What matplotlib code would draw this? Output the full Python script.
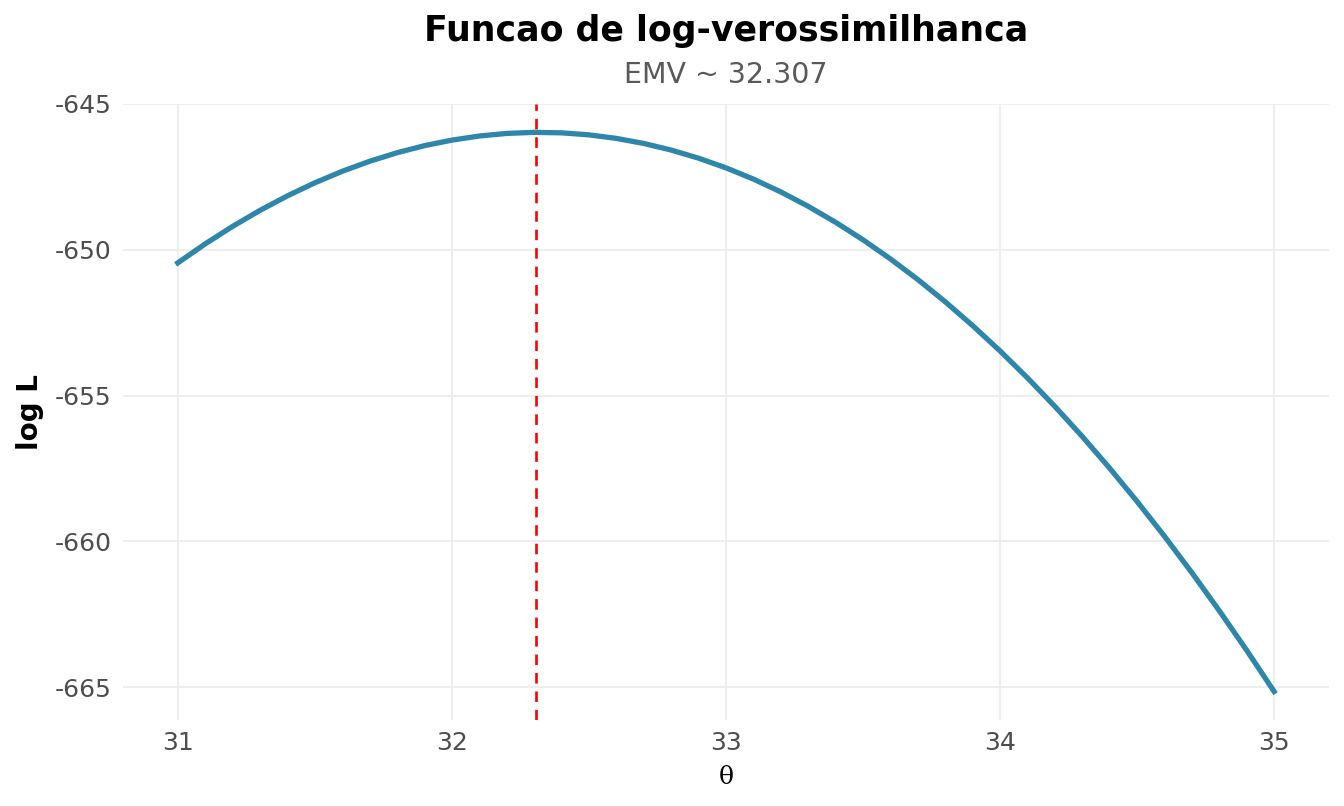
import matplotlib
matplotlib.use("Agg")
import matplotlib.pyplot as plt

# log-likelihood curve
theta = [31.0, 31.1, 31.2, 31.3, 31.4, 31.5, 31.6, 31.7, 31.8, 31.9,
         32.0, 32.1, 32.2, 32.3, 32.4, 32.5, 32.6, 32.7, 32.8, 32.9,
         33.0, 33.1, 33.2, 33.3, 33.4, 33.5, 33.6, 33.7, 33.8, 33.9,
         34.0, 34.1, 34.2, 34.3, 34.4, 34.5, 34.6, 34.7, 34.8, 34.9, 35.0]
loglik = [-650.450, -649.798, -649.198, -648.649, -648.151, -647.704,
          -647.309, -646.965, -646.672, -646.430, -646.240, -646.099,
          -646.010, -645.974, -645.990, -646.059, -646.180, -646.354,
          -646.580, -646.859, -647.190, -647.576, -648.016, -648.510,
          -649.057, -649.658, -650.313, -651.022, -651.784, -652.600,
          -653.470, -654.394, -655.372, -656.404, -657.491, -658.632,
          -659.827, -661.076, -662.380, -663.738, -665.150]
emv = 32.307

xticks = [31, 32, 33, 34, 35]
yticks = [-665, -660, -655, -650, -645]

fig = plt.figure(figsize=(13.44, 8.06), dpi=100)
ax = fig.add_axes([0.0915, 0.1073, 0.8973, 0.7637])

ax.plot(theta, loglik, color="#2E86AB", lw=3.8, solid_joinstyle="round", zorder=3)
ax.axvline(emv, color="red", lw=1.9, ls=(0, (4, 3)), zorder=4)

ax.set_xlim(30.8, 35.2)
ax.set_ylim(-666.11, -645.0)
ax.set_xticks(xticks)
ax.set_yticks(yticks)
ax.set_yticklabels([str(v) for v in yticks])

ax.grid(True, color="#EBEBEB", lw=1.2)
ax.set_axisbelow(True)
for s in ax.spines.values():
    s.set_visible(False)
ax.tick_params(length=0, labelsize=18, labelcolor="#4D4D4D", pad=8)

ax.set_xlabel("θ", fontsize=18, family="DejaVu Serif", labelpad=8)
ax.set_ylabel("log L", fontsize=20, fontweight="bold", labelpad=8)

fig.text(0.54, 0.961, "Funcao de log-verossimilhanca", ha="center", va="center",
         fontsize=25, fontweight="bold")
fig.text(0.54, 0.907, f"EMV ~ {emv}", ha="center", va="center",
         fontsize=20.5, color="#595959")

fig.savefig("out.png", dpi=100, facecolor="white")
